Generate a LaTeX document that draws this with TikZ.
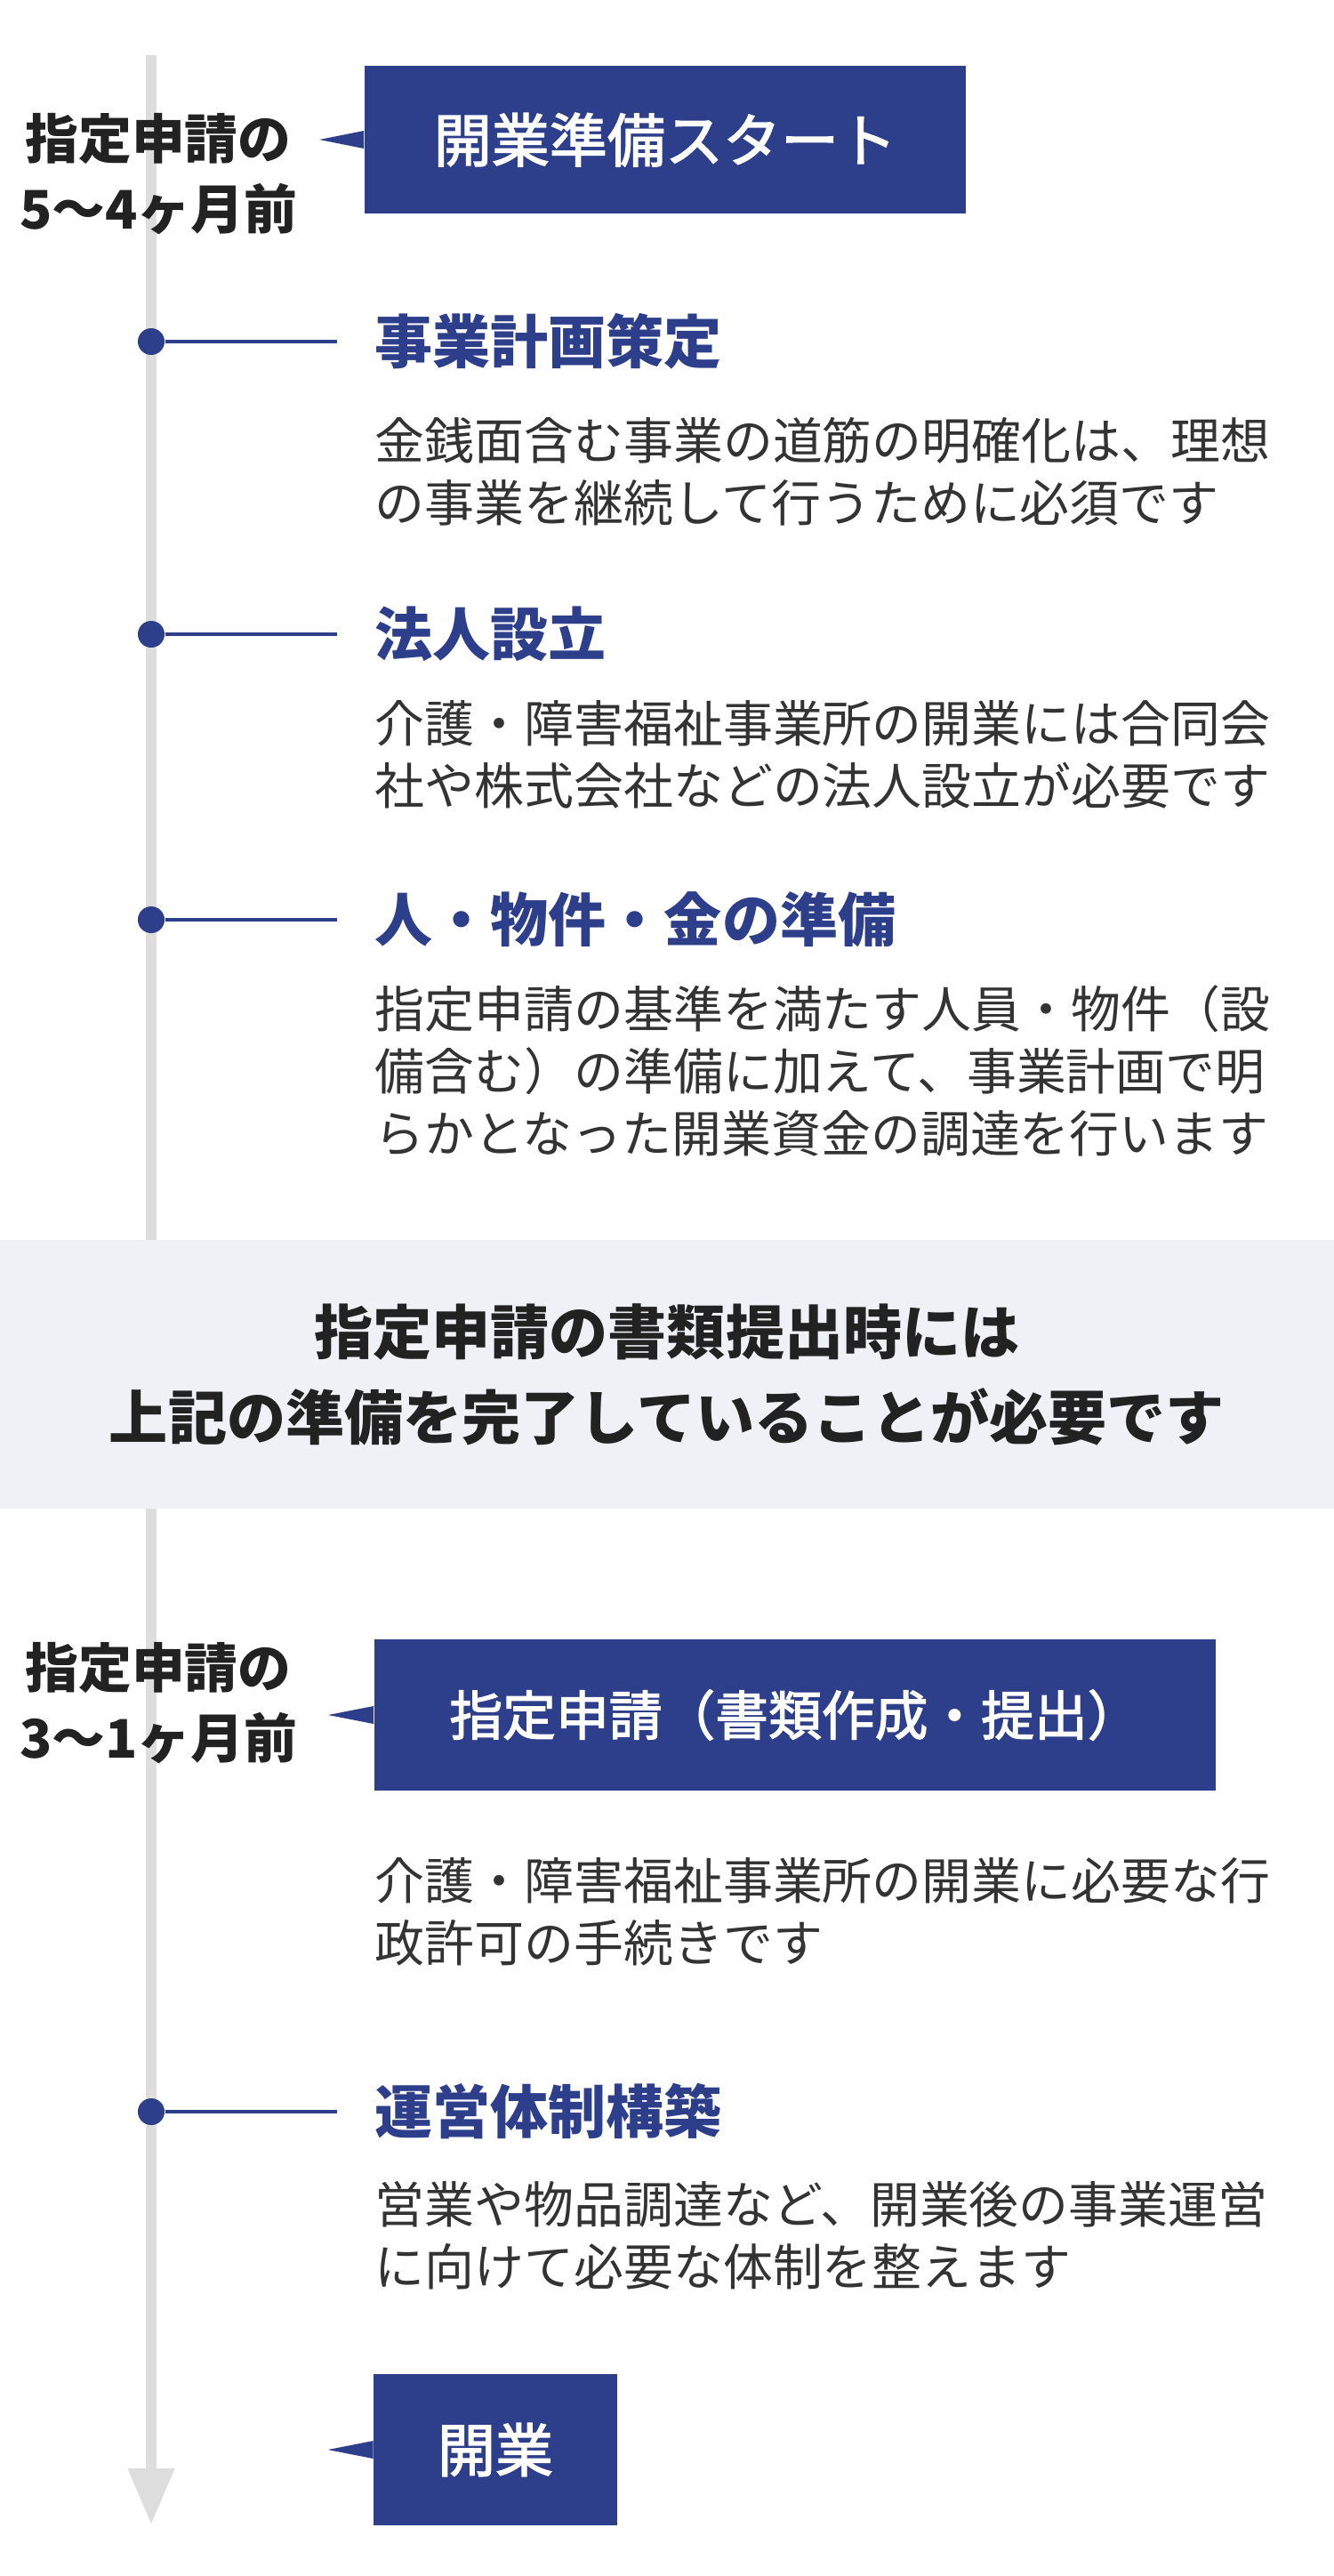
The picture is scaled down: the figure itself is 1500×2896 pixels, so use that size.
\documentclass[tikz,border=0pt]{standalone}
\usepackage{fontspec}
\setmainfont{Noto Sans CJK JP}
\newfontfamily\jpmedium[FakeBold=2.2]{Noto Sans CJK JP}
\usepackage{tikz}
\usetikzlibrary{arrows.meta,positioning}

\definecolor{boxblue}{HTML}{2D3E8B}
\definecolor{linegray}{HTML}{DDDDDD}
\definecolor{bandgray}{HTML}{EFF1F6}
\definecolor{inkdark}{HTML}{222222}
\definecolor{inktext}{HTML}{333333}

\tikzset{
	stepbox/.style={fill=boxblue, text=white, inner sep=0pt, font=\jpmedium\fontsize{18.5}{22}\selectfont},
	steptitle/.style={anchor=west, inner sep=0pt, text=boxblue, font=\bfseries\fontsize{18.5}{22}\selectfont},
	stepnote/.style={anchor=west, inner sep=0pt, align=left, text=inktext, font=\fontsize{15.9}{19.9}\selectfont},
	whenlabel/.style={inner sep=0pt, align=center, text=inkdark, font=\bfseries\fontsize{17}{22.5}\selectfont},
	stepdot/.style={circle, fill=boxblue, inner sep=0pt, minimum size=0.3cm},
	tick/.style={boxblue, line width=0.035cm, shorten >=0.42cm},
	timeline/.style={linegray, line width=0.11cm, -{Triangle[width=0.5cm,length=0.63cm]}},
	memo/.style={fill=bandgray, inner sep=0pt, minimum width=15cm, minimum height=3.01cm, align=center, text=inkdark, font=\bfseries\fontsize{18.8}{27.3}\selectfont}
}

\begin{document}
\begin{tikzpicture}[x=0.01cm, y=-0.01cm]

	\useasboundingbox (0,0) rectangle (1500,2896);

	% timeline
	\coordinate (tltop) at (170,62);
	\coordinate (tlend) at (170,2838);
	\draw [timeline] (tltop) -- (tlend);

	% start of preparation
	\node [whenlabel] (when1) at (178,196) {指定申請の\\5〜4ヶ月前};
	\node [stepbox, minimum width=6.76cm, minimum height=1.66cm] (start) at (748,157) {開業準備スタート};
	\fill [boxblue] ([yshift=0.1cm]start.west) -- ([xshift=-0.5cm]start.west) -- ([yshift=-0.1cm]start.west) -- cycle;

	% preparation steps
	\node [stepdot] (d1) at (170,384) {};
	\node [steptitle] (plan) at (421,384) {事業計画策定};
	\node [stepnote] (plannote) at (421,530) {金銭面含む事業の道筋の明確化は、理想\\の事業を継続して行うために必須です};
	\draw [tick] (d1) -- (plan);

	\node [stepdot] (d2) at (170,713) {};
	\node [steptitle] (corp) at (421,713) {法人設立};
	\node [stepnote] (corpnote) at (421,848) {介護・障害福祉事業所の開業には合同会\\社や株式会社などの法人設立が必要です};
	\draw [tick] (d2) -- (corp);

	\node [stepdot] (d3) at (170,1034) {};
	\node [steptitle] (prep) at (421,1034) {人・物件・金の準備};
	\node [stepnote] (prepnote) at (421,1204) {指定申請の基準を満たす人員・物件（設\\備含む）の準備に加えて、事業計画で明\\らかとなった開業資金の調達を行います};
	\draw [tick] (d3) -- (prep);

	% note band
	\node [memo] (band) at (750,1545) {指定申請の書類提出時には\\上記の準備を完了していることが必要です};

	% application
	\node [whenlabel] (when2) at (178,1915) {指定申請の\\3〜1ヶ月前};
	\node [stepbox, minimum width=9.46cm, minimum height=1.70cm, font=\jpmedium\fontsize{17}{22}\selectfont] (apply) at (894,1928) {指定申請（書類作成・提出）};
	\fill [boxblue] ([yshift=0.1cm]apply.west) -- ([xshift=-0.51cm]apply.west) -- ([yshift=-0.1cm]apply.west) -- cycle;
	\node [stepnote] (applynote) at (421,2149) {介護・障害福祉事業所の開業に必要な行\\政許可の手続きです};

	\node [stepdot] (d4) at (170,2374) {};
	\node [steptitle] (setup) at (421,2374) {運営体制構築};
	\node [stepnote] (setupnote) at (421,2513) {営業や物品調達など、開業後の事業運営\\に向けて必要な体制を整えます};
	\draw [tick] (d4) -- (setup);

	% opening
	\node [stepbox, minimum width=2.73cm, minimum height=1.70cm] (open) at (557,2754) {開業};
	\fill [boxblue] ([yshift=0.1cm]open.west) -- ([xshift=-0.51cm]open.west) -- ([yshift=-0.1cm]open.west) -- cycle;

\end{tikzpicture}
\end{document}
